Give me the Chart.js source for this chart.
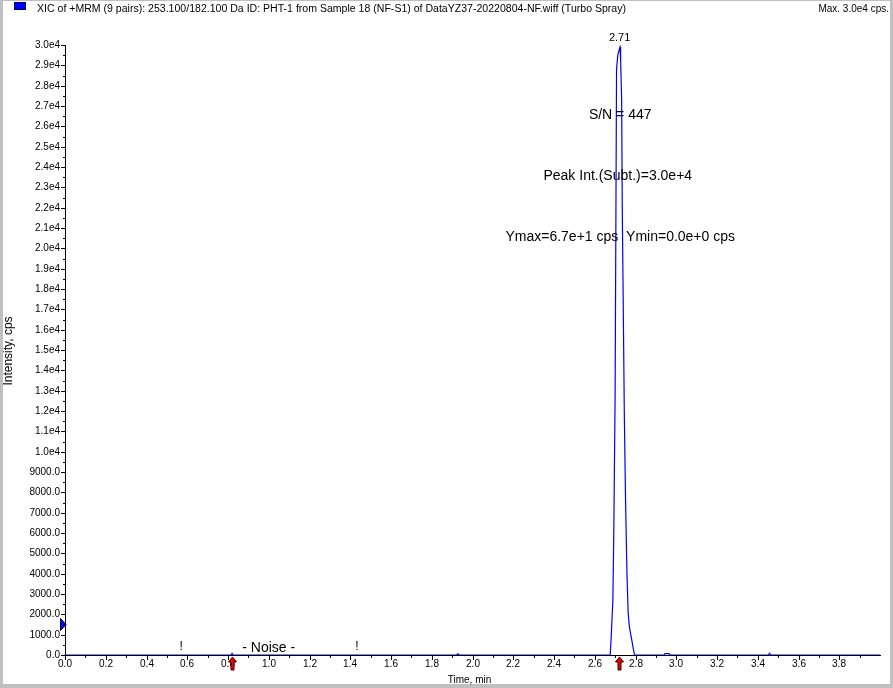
<!DOCTYPE html>
<html><head><meta charset="utf-8">
<script src="https://cdn.jsdelivr.net/npm/chart.js@4"></script>
<style>html,body{margin:0;padding:0;background:#fff}#c{display:block}</style>
</head><body>
<canvas id="c" width="893" height="688"></canvas>
<script>
const titleText = "XIC of +MRM (9 pairs): 253.100/182.100 Da ID: PHT-1 from Sample 18 (NF-S1) of DataYZ37-20220804-NF.wiff (Turbo Spray)";
const maxText = "Max. 3.0e4 cps.";
const xTitle = "Time, min";
const yTitle = "Intensity, cps";

const times = [0.00, 0.805, 0.815, 0.82, 0.825, 0.835, 1.91, 1.922, 1.928, 1.935, 2.60, 2.676, 2.680, 2.689, 2.694, 2.700, 2.707, 2.713, 2.724, 2.727, 2.732, 2.735, 2.740, 2.745, 2.751, 2.758, 2.764, 2.770, 2.795, 2.90, 2.940, 2.945, 2.965, 2.970, 3.40, 3.452, 3.458, 3.465, 4.00];
const intensities = [0, 0, 0, 80, 0, 0, 0, 0, 60, 0, 0, 0, 740, 2700, 6500, 12800, 28800, 29500, 29900, 29260, 27300, 22100, 17070, 11950, 7720, 4030, 2070, 1380, 0, 0, 0, 70, 70, 0, 0, 0, 90, 0, 0];

const xTickLabels = ["0.0","0.2","0.4","0.6","0.8","1.0","1.2","1.4","1.6","1.8","2.0","2.2","2.4","2.6","2.8","3.0","3.2","3.4","3.6","3.8"];
const yTickValues = [0,1000,2000,3000,4000,5000,6000,7000,8000,9000,10000,11000,12000,13000,14000,15000,16000,17000,18000,19000,20000,21000,22000,23000,24000,25000,26000,27000,28000,29000,30000];
const yTickLabels = ["0.0","1000.0","2000.0","3000.0","4000.0","5000.0","6000.0","7000.0","8000.0","9000.0","1.0e4","1.1e4","1.2e4","1.3e4","1.4e4","1.5e4","1.6e4","1.7e4","1.8e4","1.9e4","2.0e4","2.1e4","2.2e4","2.3e4","2.4e4","2.5e4","2.6e4","2.7e4","2.8e4","2.9e4","3.0e4"];

const peakLabel = "2.71";
const peakLabelTime = 2.722;
const peakNotes = ["S/N = 447", "Peak Int.(Subt.)=3.0e+4", "Ymax=6.7e+1 cps  Ymin=0.0e+0 cps"];
const peakNoteTimes = [2.725, 2.713, 2.725];
const peakNoteValues = [26560, 23560, 20560];
const noiseLabel = "- Noise -";
const noiseLabelTime = 1.0;
const noiseMarkTimes = [0.57, 1.433];
const arrowTimes = [0.82, 2.72];
const thresholdValue = 1500;

const FONT = "'Liberation Sans', Arial, sans-serif";

const decor = {
  id: 'decor',
  beforeDraw(chart) {
    const ctx = chart.ctx;
    ctx.save();
    ctx.fillStyle = '#c0c0c0';
    ctx.fillRect(0, 0, chart.width, chart.height);
    ctx.fillStyle = '#ffffff';
    ctx.fillRect(3, 1, 887, 683);
    ctx.restore();
  },
  afterDraw(chart) {
    const ctx = chart.ctx;
    const xs = chart.scales.x, ys = chart.scales.y;
    const a = chart.chartArea;
    ctx.save();
    ctx.fillStyle = '#000';
    const x0 = Math.round(a.left), yb = Math.round(a.bottom);
    ctx.fillRect(x0, Math.round(a.top), 1, yb - Math.round(a.top) + 1);
    ctx.fillRect(x0, yb, Math.round(a.right) - x0 + 1, 1);
    ctx.font = "10px " + FONT;
    ctx.textAlign = 'right';
    ctx.textBaseline = 'middle';
    for (let i = 0; i < yTickValues.length; i++) {
      const py = Math.round(ys.getPixelForValue(yTickValues[i]));
      ctx.fillRect(x0 - 4, py, 4, 1);
      ctx.fillText(yTickLabels[i], x0 - 5, py + 0.5);
      if (i < yTickValues.length - 1) {
        const pm = Math.round(ys.getPixelForValue((yTickValues[i] + yTickValues[i+1]) / 2));
        ctx.fillRect(x0 - 2, pm, 2, 1);
      }
    }
    ctx.textAlign = 'center';
    ctx.textBaseline = 'top';
    for (let i = 0; i < xTickLabels.length; i++) {
      const v = parseFloat(xTickLabels[i]);
      const px = Math.round(xs.getPixelForValue(v));
      ctx.fillRect(px, yb + 1, 1, 4);
      ctx.fillText(xTickLabels[i], px, yb + 4);
      const pm = Math.round(xs.getPixelForValue(v + 0.1));
      ctx.fillRect(pm, yb + 1, 1, 2);
    }
    ctx.fillText(xTitle, (a.left + a.right) / 2 - 3, 675);
    ctx.save();
    ctx.translate(9, 351);
    ctx.rotate(-Math.PI / 2);
    ctx.textBaseline = 'middle';
    ctx.font = "12px " + FONT;
    ctx.fillText(yTitle, 0, 0);
    ctx.restore();

    ctx.textAlign = 'left';
    ctx.textBaseline = 'middle';
    ctx.font = "10px " + FONT;
    let w = ctx.measureText(titleText).width;
    ctx.save();
    ctx.translate(37, 9);
    ctx.scale(589 / w, 1);
    ctx.fillText(titleText, 0, 0);
    ctx.restore();
    ctx.textAlign = 'right';
    ctx.fillText(maxText, 889, 9);
    ctx.fillStyle = '#0000ff';
    ctx.fillRect(15, 3, 11, 7);
    ctx.strokeStyle = '#000060';
    ctx.lineWidth = 1;
    ctx.strokeRect(14.5, 2.5, 11, 7);

    ctx.fillStyle = '#000';
    ctx.textAlign = 'center';
    ctx.textBaseline = 'middle';
    ctx.font = "11px " + FONT;
    ctx.fillText(peakLabel, xs.getPixelForValue(peakLabelTime), a.top - 7);
    ctx.font = "14px " + FONT;
    for (let i = 0; i < peakNotes.length; i++) {
      ctx.fillText(peakNotes[i], xs.getPixelForValue(peakNoteTimes[i]), ys.getPixelForValue(peakNoteValues[i]));
    }
    ctx.fillText(noiseLabel, xs.getPixelForValue(noiseLabelTime), yb - 7);
    ctx.font = "12px " + FONT;
    for (const t of noiseMarkTimes) ctx.fillText("!", xs.getPixelForValue(t), yb - 8);

    for (const t of arrowTimes) {
      const px = Math.round(xs.getPixelForValue(t)) + 0.5;
      ctx.beginPath();
      ctx.moveTo(px, yb + 2);
      ctx.lineTo(px + 4, yb + 7);
      ctx.lineTo(px + 1.5, yb + 7);
      ctx.lineTo(px + 1.5, yb + 15);
      ctx.lineTo(px - 1.5, yb + 15);
      ctx.lineTo(px - 1.5, yb + 7);
      ctx.lineTo(px - 4, yb + 7);
      ctx.closePath();
      ctx.fillStyle = '#ee0000';
      ctx.fill();
      ctx.strokeStyle = '#400000';
      ctx.stroke();
    }
    const ty = ys.getPixelForValue(thresholdValue);
    ctx.beginPath();
    ctx.moveTo(60.5, ty - 6);
    ctx.lineTo(60.5, ty + 6);
    ctx.lineTo(66, ty);
    ctx.closePath();
    ctx.fillStyle = '#0000ff';
    ctx.fill();
    ctx.strokeStyle = '#000040';
    ctx.stroke();
    ctx.restore();
  }
};

new Chart(document.getElementById('c'), {
  type: 'line',
  data: {
    datasets: [{
      data: times.map((t, i) => ({ x: t, y: intensities[i] })),
      borderColor: '#0000ff',
      borderWidth: 1.2,
      pointRadius: 0,
      tension: 0,
      fill: false
    }]
  },
  options: {
    responsive: false,
    animation: false,
    devicePixelRatio: 1,
    layout: { padding: { left: 65, top: 45, right: 13, bottom: 33 } },
    plugins: { legend: { display: false }, tooltip: { enabled: false } },
    scales: {
      x: { type: 'linear', min: 0, max: 4.0, display: false },
      y: { type: 'linear', min: 0, max: 30000, display: false }
    }
  },
  plugins: [decor]
});
</script>
</body></html>
